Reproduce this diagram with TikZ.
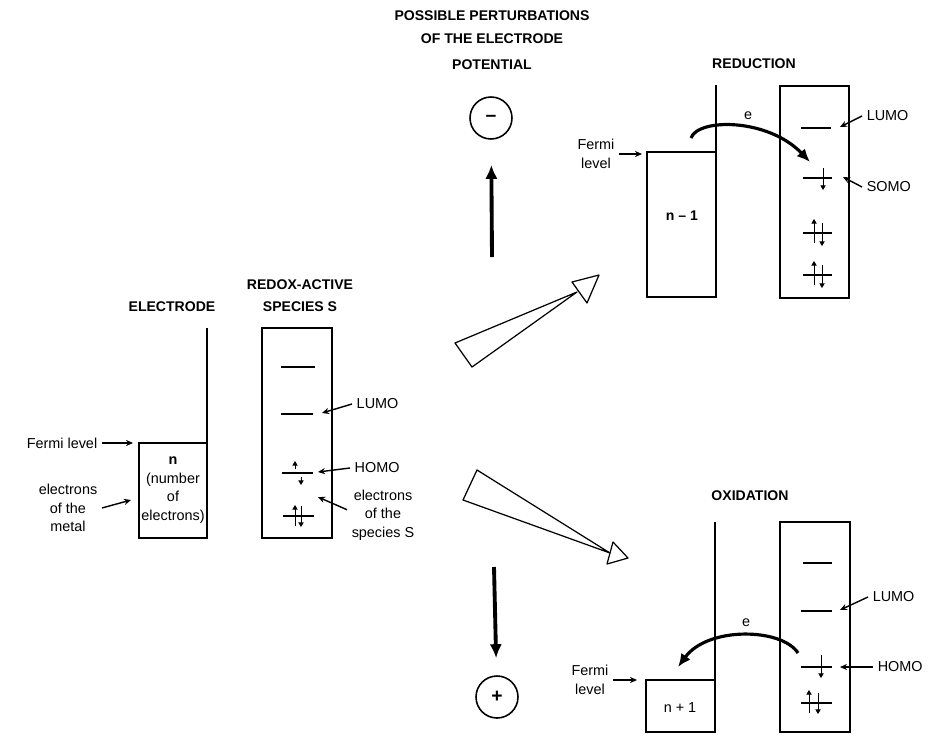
\documentclass[tikz,border=0pt]{standalone}
\usepackage{fontspec}
\setmainfont{Liberation Sans}
\usetikzlibrary{arrows.meta}

\begin{document}
\begin{tikzpicture}[x=0.02cm,y=-0.02cm,
    head/.style={font=\bfseries\fontsize{8}{12.5}\selectfont,align=center,inner sep=1pt},
    lbl/.style={font=\fontsize{8.2}{10.6}\selectfont,align=center,inner sep=2.5pt},
    band/.style={line width=0.6pt},
    lvl/.style={line width=1pt},
    ptr/.style={-{Stealth[length=4pt,width=3.5pt]},line width=0.8pt},
    elec/.style={-{Triangle[length=2.6pt,width=3pt]},line width=0.45pt},
    sign/.style={draw,circle,minimum size=0.84cm,line width=0.9pt,font=\bfseries\fontsize{11}{12}\selectfont},
    bigarrow/.style={-{Latex[length=8pt,width=7pt]},line width=2.2pt},
    hop/.style={-{Latex[length=7.5pt,width=6.5pt]},line width=1.8pt},
    hollow/.style={draw,fill=white,line width=0.7pt,line join=round}]
  \useasboundingbox (0,0) rectangle (943,734);

  % electrode and species S before any perturbation
  \node[head] (electrode) at (172,307) {ELECTRODE};
  \node[head] (species) at (300,296) {REDOX-ACTIVE\\SPECIES S};
  \draw[band] (207,328) -- (207,538) -- (139,538) -- (139,443) -- (207,443);
  \node[lbl] (nA) at (173,490) {\textbf{n}\\(number\\of\\electrons)};
  \node[lbl] (fermiA) at (62,443) {Fermi level};
  \node[lbl] (metal) at (68,508) {electrons\\of the\\metal};
  \coordinate (fermiAto) at (133,443);
  \coordinate (metalto) at (131,500);
  \draw[ptr] (fermiA.east) -- (fermiAto);
  \draw[ptr] (metal.east) -- (metalto);

  \draw[band] (262,328) rectangle (332,538);
  \draw[lvl] (281,367) -- (315,367);
  \draw[lvl] (281,414) -- (313,414);
  \draw[lvl] (282,473) -- (313,473);
  \draw[lvl] (283,516) -- (314,516);
  \draw[elec] (295,469) -- (295,461);
  \draw[elec] (301,477) -- (301,485);
  \draw[elec] (295,526) -- (295,505);
  \draw[elec] (301,506) -- (301,527);
  \node[lbl,anchor=west] (lumoA) at (352,404) {LUMO};
  \node[lbl,anchor=west] (homoA) at (350,468) {HOMO};
  \node[lbl] (specS) at (383,515) {electrons\\of the\\species S};
  \coordinate (lumoAto) at (322,413);
  \coordinate (homoAto) at (318,472);
  \coordinate (specSto) at (318,497);
  \draw[ptr] (lumoA.west) -- (lumoAto);
  \draw[ptr] (homoA.west) -- (homoAto);
  \draw[ptr] ([yshift=3pt]specS.west) -- (specSto);

  % perturbations of the potential
  \node[head,font=\bfseries\fontsize{8}{13.6}\selectfont] (perturb) at (492,40) {POSSIBLE PERTURBATIONS\\OF THE ELECTRODE\\[1pt]POTENTIAL};
  \node[sign] (minus) at (491,118) {\textendash};
  \node[sign] (plus) at (497,697) {+};
  \coordinate (upTail) at (492,257);
  \coordinate (downTail) at (494,567);
  \draw[bigarrow,shorten >=0.5cm] (upTail) -- (minus);
  \draw[bigarrow,shorten >=0.34cm] (downTail) -- (plus);

  \draw[hollow] (455,343) -- (577,292) -- (472,367) -- cycle;
  \draw[hollow] (572,282) -- (599,275) -- (587,303) -- cycle;
  \draw[hollow] (477,470) -- (610,553) -- (463,500) -- cycle;
  \draw[hollow] (613,542) -- (628,558) -- (607,564) -- cycle;

  % reduction
  \node[head] (reduction) at (754,64) {REDUCTION};
  \draw[band] (716,85) -- (716,297) -- (647,297) -- (647,152) -- (716,152);
  \node[head] (nm1) at (682,216) {n \textendash\ 1};
  \node[lbl] (fermiB) at (596,154) {Fermi\\level};
  \coordinate (fermiBto) at (642,154);
  \draw[ptr] (fermiB.east) -- (fermiBto);
  \draw[band] (780,86) rectangle (849,298);
  \draw[lvl] (801,128) -- (831,128);
  \draw[lvl] (803,178) -- (832,178);
  \draw[lvl] (803,233) -- (832,233);
  \draw[lvl] (803,275) -- (832,275);
  \draw[elec] (823,168) -- (823,190);
  \draw[elec] (814,243) -- (814,219);
  \draw[elec] (822,223) -- (822,246);
  \draw[elec] (814,285) -- (814,261);
  \draw[elec] (822,265) -- (822,288);
  \node[lbl,anchor=west] (lumoB) at (862,116) {LUMO};
  \node[lbl,anchor=west] (somoB) at (862,187) {SOMO};
  \coordinate (lumoBto) at (840,127);
  \coordinate (somoBto) at (843,177);
  \draw[ptr] (lumoB.west) -- (lumoBto);
  \draw[ptr] (somoB.west) -- (somoBto);
  \coordinate (eBfrom) at (691,138);
  \coordinate (eBto) at (810,162);
  \draw[hop] (eBfrom) .. controls (698,118) and (768,118) .. (eBto);
  \node[lbl] (eB) at (748,116) {e};

  % oxidation
  \node[head] (oxidation) at (750,496) {OXIDATION};
  \draw[band] (715,522) -- (715,732) -- (646,732) -- (646,680) -- (715,680);
  \node[lbl] (np1) at (680,708) {n + 1};
  \node[lbl] (fermiC) at (590,680) {Fermi\\level};
  \coordinate (fermiCto) at (637,680);
  \draw[ptr] (fermiC.east) -- (fermiCto);
  \draw[band] (780,522) rectangle (850,732);
  \draw[lvl] (803,563) -- (832,563);
  \draw[lvl] (801,611) -- (832,611);
  \draw[lvl] (801,667) -- (832,667);
  \draw[lvl] (801,703) -- (832,703);
  \draw[elec] (821,655) -- (821,678);
  \draw[elec] (809,713) -- (809,690);
  \draw[elec] (818,693) -- (818,714);
  \node[lbl,anchor=west] (lumoC) at (868,597) {LUMO};
  \node[lbl,anchor=west] (homoC) at (873,667) {HOMO};
  \coordinate (lumoCto) at (840,610);
  \coordinate (homoCto) at (840,667);
  \draw[ptr] (lumoC.west) -- (lumoCto);
  \draw[ptr] (homoC.west) -- (homoCto);
  \coordinate (eCfrom) at (798,653);
  \coordinate (eCto) at (678,667);
  \draw[hop] (eCfrom) .. controls (782,628) and (708,626) .. (eCto);
  \node[lbl] (eC) at (746,623) {e};
\end{tikzpicture}
\end{document}
